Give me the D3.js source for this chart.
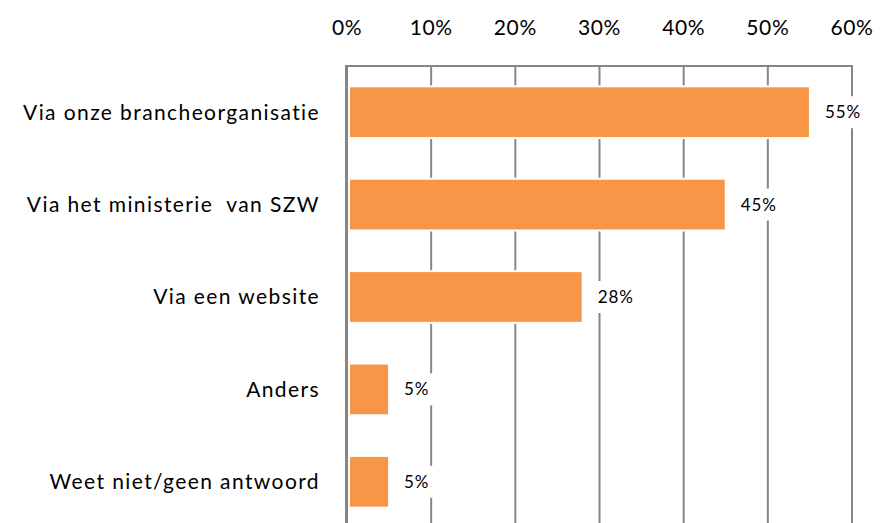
<!DOCTYPE html>
<html>
<head>
<meta charset="utf-8">
<script src="https://cdn.jsdelivr.net/npm/d3@7"></script>
<style>
  body { margin: 0; background: #fff; }
  svg { display: block; font-family: Lato, "Open Sans", sans-serif; }
</style>
</head>
<body>
<script>
// chart data
var categories = ["Via onze brancheorganisatie", "Via het ministerie  van SZW", "Via een website", "Anders", "Weet niet/geen antwoord"];
var values = [0.55, 0.45, 0.28, 0.05, 0.05];
var tickValues = [0, 0.1, 0.2, 0.3, 0.4, 0.5, 0.6];

var width = 880, height = 523;
var plotLeft = 347, plotRight = 852, plotTop = 66, plotBottom = 528;

var svg = d3.select("body").append("svg")
    .attr("width", width)
    .attr("height", height);

var x = d3.scaleLinear().domain([0, 0.6]).range([plotLeft, plotRight]);
var y = d3.scaleBand().domain(categories).range([plotTop, plotBottom]).paddingInner(0.44).paddingOuter(0.22);

// gridlines
svg.append("g").selectAll("line")
    .data(tickValues)
    .enter().append("line")
    .attr("x1", function(d){ return x(d); })
    .attr("x2", function(d){ return x(d); })
    .attr("y1", plotTop)
    .attr("y2", height + 10)
    .attr("stroke", "#868686")
    .attr("stroke-width", 2);

// top axis line
svg.append("line")
    .attr("x1", plotLeft - 1).attr("x2", plotRight + 1)
    .attr("y1", plotTop).attr("y2", plotTop)
    .attr("stroke", "#868686")
    .attr("stroke-width", 2);

// tick labels
var fmt = d3.format(".0%");
svg.append("g").selectAll("text")
    .data(tickValues)
    .enter().append("text")
    .attr("x", function(d){ return x(d); })
    .attr("y", 35)
    .attr("text-anchor", "middle")
    .attr("font-size", 21)
    .attr("letter-spacing", 0.6)
    .attr("fill", "#000")
    .text(function(d){ return fmt(d); });

// bars
svg.append("g").selectAll("rect")
    .data(values)
    .enter().append("rect")
    .attr("x", x(0) + 2)
    .attr("y", function(d, i){ return y(categories[i]); })
    .attr("width", function(d){ return x(d) - x(0) - 2; })
    .attr("height", y.bandwidth())
    .attr("fill", "#F79646")
    .attr("stroke", "#fff")
    .attr("stroke-width", 2);

// re-draw left axis above bars' white stroke
svg.append("line")
    .attr("x1", plotLeft - 1).attr("x2", plotLeft - 1)
    .attr("y1", plotTop - 1).attr("y2", height + 10)
    .attr("stroke", "#868686")
    .attr("stroke-width", 2);

// data labels with white background
var labels = svg.append("g").selectAll("g")
    .data(values)
    .enter().append("g")
    .attr("transform", function(d, i){
        return "translate(" + (x(d) + 15) + "," + (y(categories[i]) + y.bandwidth() / 2) + ")";
    });

labels.append("rect")
    .attr("x", -6)
    .attr("y", -16)
    .attr("width", function(d){ return d >= 0.1 ? 52 : 40; })
    .attr("height", 32)
    .attr("fill", "#fff");

labels.append("text")
    .attr("dy", "0.35em")
    .attr("font-size", 17)
    .attr("letter-spacing", 0.9)
    .attr("fill", "#000")
    .text(function(d){ return fmt(d); });

// category labels
svg.append("g").selectAll("text")
    .data(categories)
    .enter().append("text")
    .attr("x", 320)
    .attr("y", function(d){ return y(d) + y.bandwidth() / 2; })
    .attr("dy", "0.35em")
    .attr("text-anchor", "end")
    .attr("font-size", 21)
    .attr("letter-spacing", 1.4)
    .attr("fill", "#000")
    .style("white-space", "pre")
    .text(function(d){ return d; });
</script>
</body>
</html>
